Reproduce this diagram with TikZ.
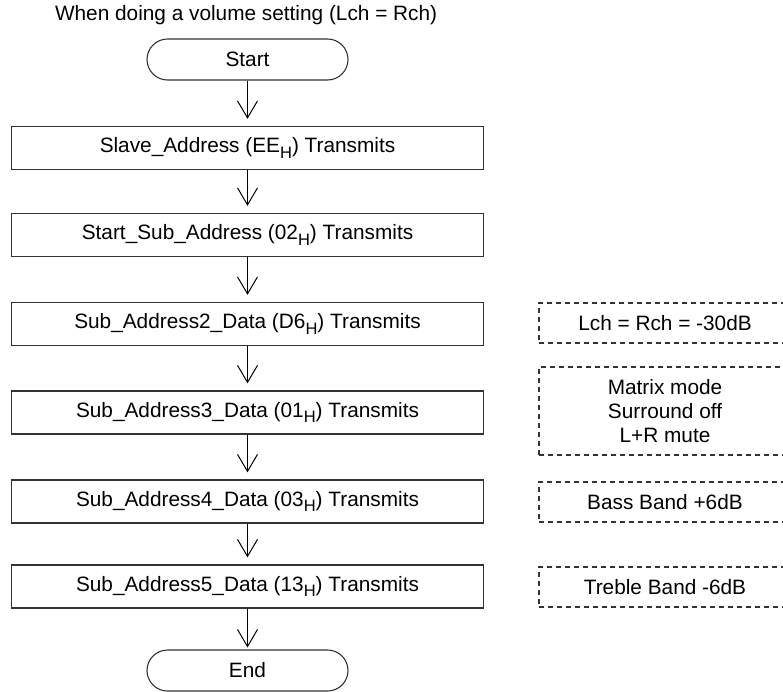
\documentclass[tikz,border=0pt]{standalone}
\usepackage{fontspec}
\setmainfont{Liberation Sans}
\usetikzlibrary{arrows.meta,shapes.misc}
% hexadecimal suffix, set smaller and lowered
\newcommand{\hexsub}[1]{\raisebox{-5.5pt}{\fontsize{16.5pt}{16.5pt}\selectfont #1}}
\begin{document}
\begin{tikzpicture}[x=1pt,y=-1pt,
  every node/.style={font=\fontsize{20.8pt}{23.7pt}\selectfont, text=black},
  procbox/.style={draw=black!80, line width=1.3pt, minimum width=472pt, minimum height=43pt, inner sep=0pt},
  termbox/.style={draw=black!80, line width=1.1pt, rounded rectangle, minimum width=201pt, minimum height=41pt, inner sep=0pt},
  notebox/.style={draw=black!80, line width=1.2pt, dash pattern=on 5pt off 4pt, minimum width=252pt, minimum height=40pt, inner sep=0pt, align=center},
  flow/.style={line width=1pt, -{Straight Barb[length=17pt,width=20pt,line width=1pt]}}]
\useasboundingbox (0,0) rectangle (783,691);

% heading
\node[anchor=west] (title) at (51.5,15) {When doing a volume setting (Lch = Rch)};

% main flow
\node[termbox] (start) at (247.5,59.5) {Start};
\node[procbox] (b1) at (247.5,148) {Slave\_Address (EE\hexsub{H}) Transmits};
\node[procbox] (b2) at (247.5,235) {Start\_Sub\_Address (02\hexsub{H}) Transmits};
\node[procbox] (b3) at (247.5,324) {Sub\_Address2\_Data (D6\hexsub{H}) Transmits};
\node[procbox] (b4) at (247.5,412.5) {Sub\_Address3\_Data (01\hexsub{H}) Transmits};
\node[procbox] (b5) at (247.5,501.5) {Sub\_Address4\_Data (03\hexsub{H}) Transmits};
\node[procbox] (b6) at (247.5,586.5) {Sub\_Address5\_Data (13\hexsub{H}) Transmits};
\node[termbox] (end) at (247.5,670.5) {End};

\draw[flow] (start.south) -- ([yshift=7pt]b1.north);
\draw[flow] (b1.south) -- ([yshift=7pt]b2.north);
\draw[flow] (b2.south) -- ([yshift=7pt]b3.north);
\draw[flow] (b3.south) -- ([yshift=7pt]b4.north);
\draw[flow] (b4.south) -- ([yshift=7pt]b5.north);
\draw[flow] (b5.south) -- ([yshift=7pt]b6.north);
\draw[flow] (b6.south) -- ([yshift=2pt]end.north);

% register notes (their right sides run past the page edge)
\node[notebox] (n3) at (665,323) {Lch = Rch = -30dB};
\node[notebox, minimum height=88pt] (n4) at (665,411) {Matrix mode\\Surround off\\L+R mute};
\node[notebox] (n5) at (665,502) {Bass Band +6dB};
\node[notebox] (n6) at (665,587) {Treble Band -6dB};
\end{tikzpicture}
\end{document}
